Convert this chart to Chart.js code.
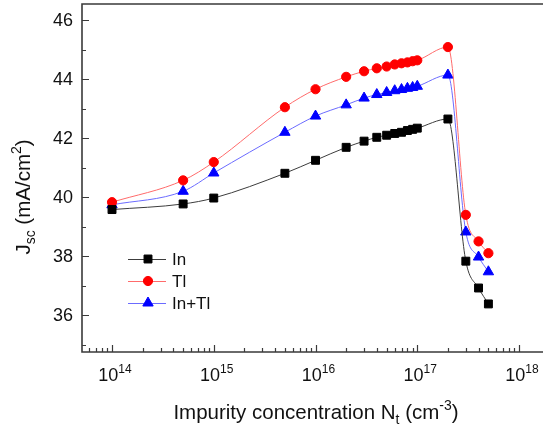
<!DOCTYPE html>
<html>
<head>
<meta charset="utf-8">
<script src="https://cdn.jsdelivr.net/npm/chart.js@4/dist/chart.umd.min.js"></script>
<style>
  html, body { margin: 0; padding: 0; background: #fff; }
  #wrap { width: 543px; height: 425px; position: relative; }
</style>
</head>
<body>
<div id="wrap"><canvas id="chart"></canvas></div>
<script>
// ── Datos ───────────────────────────────────────────────────────────────
const concentrations = [1e14, 5e14, 1e15, 5e15, 1e16, 2e16, 3e16, 4e16, 5e16, 6e16, 7e16, 8e16, 9e16, 1e17, 2e17, 3e17, 4e17, 5e17];
const jscIn   = [39.58, 39.77, 39.97, 40.81, 41.25, 41.69, 41.90, 42.03, 42.10, 42.16, 42.20, 42.26, 42.30, 42.34, 42.65, 37.83, 36.92, 36.38];
const jscTl   = [39.83, 40.57, 41.19, 43.05, 43.66, 44.08, 44.27, 44.37, 44.43, 44.50, 44.54, 44.57, 44.61, 44.64, 45.09, 39.40, 38.50, 38.10];
const jscInTl = [39.74, 40.20, 40.82, 42.20, 42.75, 43.13, 43.36, 43.48, 43.55, 43.61, 43.65, 43.69, 43.72, 43.76, 44.14, 38.82, 37.97, 37.47];

const seriesNames = ['In', 'Tl', 'In+Tl'];
const xMajorExponents = [14, 15, 16, 17, 18];
const yMajorTicks = [36, 38, 40, 42, 44, 46];
const yMinorTicks = [35, 37, 39, 41, 43, 45];

const FONT = '"Liberation Sans", Arial, sans-serif';
const AXIS_COLOR = '#3a3a3a';

const toPoints = ys => ys.map((y, i) => ({ x: concentrations[i], y }));

const estilos = [
  { line: '#3c3c3c', fill: '#000000', style: 'rect', radius: 5.6 },
  { line: '#ff6b6b', fill: '#ff0000', style: 'circle', radius: 4.6 },
  { line: '#6b6bff', fill: '#0000ff', style: 'triangle', radius: 6 },
];

// ── Dibuja texto con sub/superíndices por partes ────────────────────────
function drawRich(ctx, parts, x, y, align) {
  let total = 0;
  parts.forEach(p => {
    ctx.font = `${p.size}px ${FONT}`;
    p.w = ctx.measureText(p.t).width;
    total += p.w;
  });
  let cx = align === 'center' ? x - total / 2 : (align === 'right' ? x - total : x);
  parts.forEach(p => {
    ctx.font = `${p.size}px ${FONT}`;
    ctx.fillText(p.t, cx, y + (p.dy || 0));
    cx += p.w;
  });
}

// ── Ejes, ticks, etiquetas y leyenda estilo Origin ──────────────────────
const originAxes = {
  id: 'originAxes',
  afterDatasetsDraw(chart) {
    const { ctx, chartArea: a, scales: { x, y } } = chart;
    ctx.save();
    ctx.strokeStyle = AXIS_COLOR;
    ctx.fillStyle = '#111';
    ctx.lineWidth = 1.6;

    // marco
    ctx.beginPath();
    ctx.moveTo(a.right + 2, a.top);
    ctx.lineTo(a.left, a.top);
    ctx.lineTo(a.left, a.bottom);
    ctx.lineTo(a.right + 2, a.bottom);
    ctx.stroke();

    // ticks X (hacia adentro)
    ctx.lineWidth = 1.2;
    ctx.beginPath();
    for (let e = 13; e <= 18; e++) {
      for (let m = 1; m <= 9; m++) {
        const v = m * Math.pow(10, e);
        if (v < x.min || v > x.max) continue;
        const px = Math.round(x.getPixelForValue(v)) + 0.5;
        const len = m === 1 ? 7 : 4;
        ctx.moveTo(px, a.bottom);
        ctx.lineTo(px, a.bottom - len);
      }
    }
    // ticks Y (hacia adentro)
    yMajorTicks.forEach(v => {
      const py = Math.round(y.getPixelForValue(v)) + 0.5;
      ctx.moveTo(a.left, py);
      ctx.lineTo(a.left + 7, py);
    });
    yMinorTicks.forEach(v => {
      const py = Math.round(y.getPixelForValue(v)) + 0.5;
      ctx.moveTo(a.left, py);
      ctx.lineTo(a.left + 4, py);
    });
    ctx.stroke();

    // etiquetas Y
    ctx.textBaseline = 'middle';
    ctx.textAlign = 'right';
    ctx.font = `18px ${FONT}`;
    yMajorTicks.forEach(v => {
      ctx.fillText(String(v), a.left - 9, y.getPixelForValue(v) + 1);
    });

    // etiquetas X con exponente
    ctx.textAlign = 'left';
    ctx.textBaseline = 'alphabetic';
    xMajorExponents.forEach(e => {
      const px = x.getPixelForValue(Math.pow(10, e));
      drawRich(ctx, [
        { t: '10', size: 18 },
        { t: String(e), size: 12, dy: -8 },
      ], px + 3, a.bottom + 29, 'center');
    });

    // título X
    drawRich(ctx, [
      { t: 'Impurity concentration N', size: 20.5 },
      { t: 't', size: 14, dy: 5 },
      { t: ' (cm', size: 20.5 },
      { t: '-3', size: 14, dy: -9 },
      { t: ')', size: 20.5 },
    ], 316, 419, 'center');

    // título Y (rotado)
    ctx.save();
    ctx.translate(30, 197);
    ctx.rotate(-Math.PI / 2);
    drawRich(ctx, [
      { t: 'J', size: 20.5 },
      { t: 'sc', size: 14, dy: 5 },
      { t: ' (mA/cm', size: 20.5 },
      { t: '2', size: 14, dy: -9 },
      { t: ')', size: 20.5 },
    ], 0, 0, 'center');
    ctx.restore();

    // leyenda
    const lx0 = 128, lx1 = 166, mx = 148, tx = 172;
    const rows = [259, 281, 303];
    chart.data.datasets.forEach((ds, i) => {
      const st = estilos[i];
      const ry = rows[i];
      ctx.strokeStyle = st.line;
      ctx.lineWidth = 1;
      ctx.beginPath();
      ctx.moveTo(lx0, ry + 0.5);
      ctx.lineTo(lx1, ry + 0.5);
      ctx.stroke();
      ctx.fillStyle = st.fill;
      ctx.strokeStyle = st.fill;
      Chart.helpers.drawPoint(ctx, { pointStyle: st.style, radius: st.radius, rotation: 0, borderWidth: 1 }, mx, ry);
      ctx.fillStyle = '#111';
      ctx.font = `17px ${FONT}`;
      ctx.textBaseline = 'middle';
      ctx.textAlign = 'left';
      ctx.fillText(seriesNames[i], tx, ry + 1);
    });

    ctx.restore();
  },
};

const datasets = [jscIn, jscTl, jscInTl].map((serie, i) => ({
  label: seriesNames[i],
  data: toPoints(serie),
  borderColor: estilos[i].line,
  borderWidth: 1,
  backgroundColor: estilos[i].fill,
  pointStyle: estilos[i].style,
  pointRadius: estilos[i].radius,
  pointBackgroundColor: estilos[i].fill,
  pointBorderColor: estilos[i].fill,
  pointBorderWidth: 1,
  cubicInterpolationMode: 'monotone',
  fill: false,
}));

new Chart(document.getElementById('chart'), {
  type: 'line',
  data: { datasets },
  options: {
    responsive: true,
    maintainAspectRatio: false,
    animation: false,
    events: [],
    layout: { autoPadding: false, padding: { left: 82, top: 4, right: 0, bottom: 73 } },
    plugins: {
      legend: { display: false },
      tooltip: { enabled: false },
    },
    scales: {
      x: {
        type: 'logarithmic',
        min: 5.07e13,
        max: 1.72e18,
        display: false,
      },
      y: {
        type: 'linear',
        min: 34.75,
        max: 46.55,
        display: false,
      },
    },
  },
  plugins: [originAxes],
});
</script>
</body>
</html>
